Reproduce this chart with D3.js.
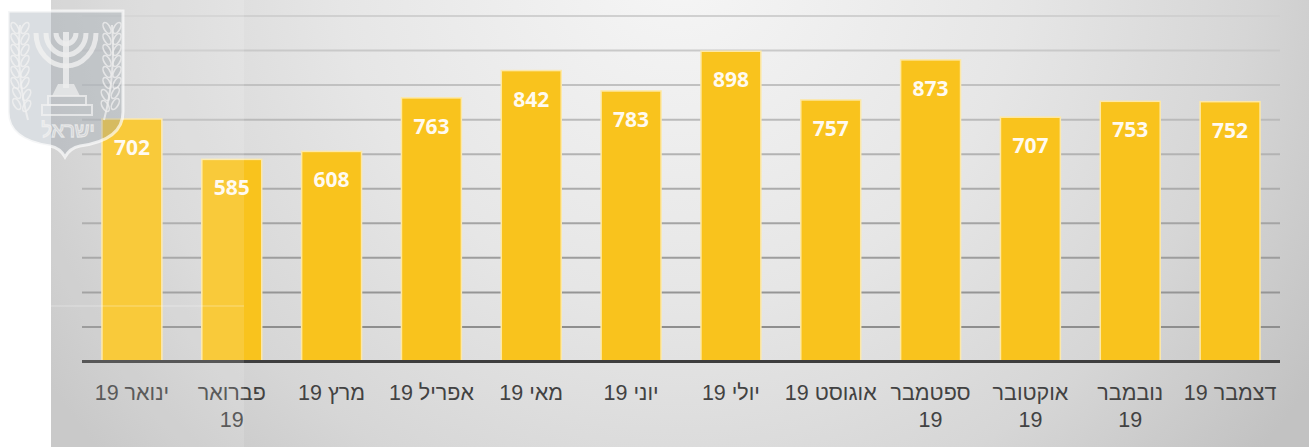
<!DOCTYPE html>
<html>
<head>
<meta charset="utf-8">
<script src="https://cdn.jsdelivr.net/npm/d3@7"></script>
<style>
  html, body { margin: 0; padding: 0; background: #ffffff; }
  svg { display: block; }
</style>
</head>
<body>
<svg id="chart" width="1309" height="447"></svg>
<script>
// ---- data ----
const months = ["ינואר 19", "פברואר 19", "מרץ 19", "אפריל 19", "מאי 19", "יוני 19",
                "יולי 19", "אוגוסט 19", "ספטמבר 19", "אוקטובר 19", "נובמבר 19", "דצמבר 19"];
const monthLines = [["ינואר 19"], ["פברואר", "19"], ["מרץ 19"], ["אפריל 19"], ["מאי 19"], ["יוני 19"],
                    ["יולי 19"], ["אוגוסט 19"], ["ספטמבר", "19"], ["אוקטובר", "19"], ["נובמבר", "19"], ["דצמבר 19"]];
const values = [702, 585, 608, 763, 842, 783, 898, 757, 873, 707, 753, 752];
const yTicks = [0, 100, 200, 300, 400, 500, 600, 700, 800, 900, 1000];

const W = 1309, H = 447;
const svg = d3.select("#chart");
const defs = svg.append("defs");

// background gradient
const rg = defs.append("radialGradient").attr("id", "bg")
  .attr("gradientUnits", "userSpaceOnUse")
  .attr("cx", 680).attr("cy", -40).attr("r", 760);
rg.append("stop").attr("offset", "0").attr("stop-color", "#f6f6f6");
rg.append("stop").attr("offset", "0.45").attr("stop-color", "#e6e6e6");
rg.append("stop").attr("offset", "0.75").attr("stop-color", "#d6d6d6");
rg.append("stop").attr("offset", "1").attr("stop-color", "#c2c2c2");

svg.append("rect").attr("x", 51).attr("y", 0).attr("width", W - 51).attr("height", H)
  .attr("fill", "url(#bg)");

// scales
const x = d3.scaleBand().domain(months).range([82, 1280]).paddingInner(0.4).paddingOuter(0.2);
const y = d3.scaleLinear().domain([0, 1000]).range([361.5, 16]);
const gridColor = d3.scaleLinear().domain([1000, 100]).range(["#d0d0d0", "#8e8e8e"]);

// gridlines
svg.append("g").selectAll("line").data(yTicks.filter(d => d > 0)).join("line")
  .attr("x1", 82).attr("x2", 1280)
  .attr("y1", d => y(d)).attr("y2", d => y(d))
  .attr("stroke", d => gridColor(d)).attr("stroke-width", 2);

// bars
const bars = svg.append("g");
bars.selectAll("rect").data(values).join("rect")
  .attr("x", (d, i) => x(months[i]))
  .attr("y", d => y(d))
  .attr("width", x.bandwidth())
  .attr("height", d => y(0) - y(d))
  .attr("fill", "#f9c31d")
  .attr("stroke", "#fde8a6").attr("stroke-width", 1.5);

// baseline axis
const axis = d3.axisBottom(x).tickSize(0).tickFormat("");
const ax = svg.append("g").attr("transform", `translate(0,${y(0)})`).call(axis);
ax.select(".domain").attr("stroke", "#3e3e3e").attr("stroke-width", 3)
  .attr("d", "M82,0H1280");

// value labels
svg.append("g").selectAll("text").data(values).join("text")
  .attr("x", (d, i) => x(months[i]) + x.bandwidth() / 2)
  .attr("y", d => y(d) + 36)
  .attr("text-anchor", "middle")
  .attr("font-family", "'Open Sans', 'DejaVu Sans', sans-serif")
  .attr("font-weight", "bold")
  .attr("font-size", 21)
  .attr("fill", "#fffaf0")
  .text(d => d);

// category labels
const lab = svg.append("g");
monthLines.forEach((lines, i) => {
  const t = lab.append("text")
    .attr("x", x(months[i]) + x.bandwidth() / 2)
    .attr("y", 400)
    .attr("text-anchor", "middle")
    .attr("direction", "rtl")
    .attr("font-family", "'Liberation Sans', Arial, sans-serif")
    .attr("font-size", 21.5)
    .attr("fill", "#424242");
  lines.forEach((ln, j) => {
    t.append("tspan").attr("x", x(months[i]) + x.bandwidth() / 2)
      .attr("dy", j === 0 ? 0 : 27).text(ln);
  });
});

// lighter overlay panel (left)
svg.append("rect").attr("x", 51).attr("y", 0).attr("width", 193).attr("height", H)
  .attr("fill", "#ffffff").attr("opacity", 0.13);
svg.append("line").attr("x1", 51).attr("x2", 244).attr("y1", 306).attr("y2", 306)
  .attr("stroke", "#ffffff").attr("stroke-opacity", 0.35).attr("stroke-width", 1);

// emblem (decorative)
const em = svg.append("g").attr("opacity", 0.9);
em.append("path")
  .attr("d", "M8,11 H123 V112 Q123,140 80,146 Q70,148 65,157 Q60,148 50,146 Q8,140 8,112 Z")
  .attr("fill", "rgba(150,160,172,0.38)")
  .attr("stroke", "rgba(255,255,255,0.75)").attr("stroke-width", 3);
const mc = { x: 66, y: 33 };
[10, 20, 30].forEach(r => {
  em.append("path")
    .attr("d", `M${mc.x - r},${mc.y} A${r},${r * 1.1} 0 0 0 ${mc.x + r},${mc.y}`)
    .attr("fill", "none").attr("stroke", "rgba(240,240,240,0.85)").attr("stroke-width", 5);
});
em.append("line").attr("x1", mc.x).attr("x2", mc.x).attr("y1", mc.y - 1).attr("y2", 88)
  .attr("stroke", "rgba(240,240,240,0.85)").attr("stroke-width", 6);
em.append("path").attr("d", "M58,84 H74 L80,96 H52 Z").attr("fill", "rgba(240,240,240,0.75)");
em.append("rect").attr("x", 48).attr("y", 96).attr("width", 38).attr("height", 9)
  .attr("fill", "none").attr("stroke", "rgba(240,240,240,0.8)").attr("stroke-width", 2);
em.append("rect").attr("x", 42).attr("y", 105).attr("width", 50).attr("height", 10)
  .attr("fill", "none").attr("stroke", "rgba(240,240,240,0.8)").attr("stroke-width", 2);
// olive branches
[[20, 1], [112, -1]].forEach(([bx, s]) => {
  em.append("path").attr("d", `M${bx},25 Q${bx + s * -4},75 ${bx + s * 8},120`)
    .attr("fill", "none").attr("stroke", "rgba(240,240,240,0.8)").attr("stroke-width", 2);
  for (let k = 0; k < 8; k++) {
    const yy = 28 + k * 11;
    [-1, 1].forEach(side => {
      em.append("ellipse")
        .attr("cx", bx + side * 5 + s * (k > 5 ? 2 : 0)).attr("cy", yy)
        .attr("rx", 3).attr("ry", 6)
        .attr("transform", `rotate(${side * 30},${bx + side * 5},${yy})`)
        .attr("fill", "none").attr("stroke", "rgba(240,240,240,0.8)").attr("stroke-width", 1.6);
    });
  }
});
em.append("text").attr("x", 68).attr("y", 137).attr("text-anchor", "middle")
  .attr("direction", "rtl")
  .attr("font-family", "'Liberation Sans', 'DejaVu Sans', sans-serif")
  .attr("font-size", 20).attr("fill", "none")
  .attr("stroke", "rgba(240,240,240,0.85)").attr("stroke-width", 1.3)
  .text("ישראל");
</script>
</body>
</html>
